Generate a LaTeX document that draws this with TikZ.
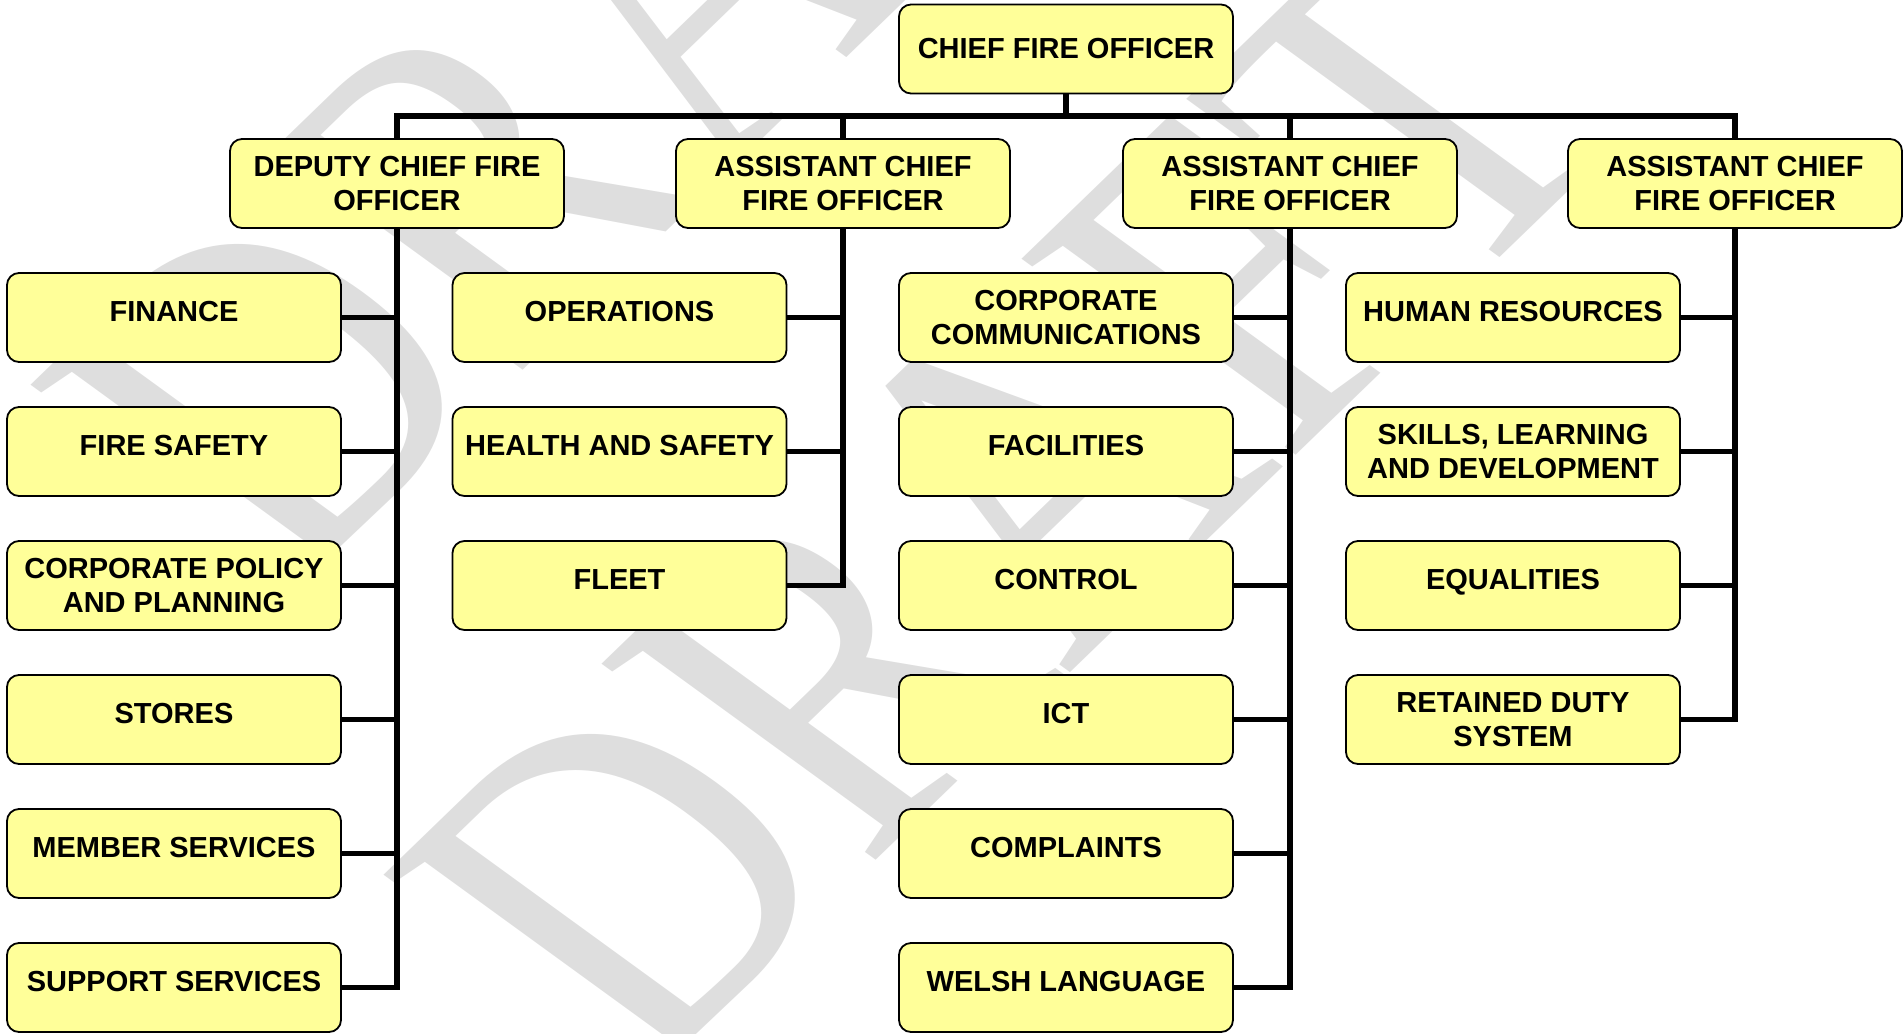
\documentclass[tikz,border=0pt]{standalone}
\usepackage{fontspec}
\setmainfont{Liberation Sans}
\newfontfamily\draftfont{Liberation Serif}
\usetikzlibrary{positioning, calc}
\definecolor{boxyellow}{RGB}{255,255,153}
\definecolor{draftgrey}{RGB}{222,222,222}
\tikzset{%
  block/.style  = {draw, rounded corners = 6pt, fill = boxyellow, line width = 0.9pt,
    minimum width = 167pt, minimum height = 44.5pt, inner sep = 0pt,
    align = center, font = \fontsize{14.5}{17}\selectfont\bfseries},
  single/.style = {text depth = 6pt}, % one-line label
  link/.style   = {line width = 2.8pt},
  draft/.style  = {text = draftgrey, inner sep = 0pt, anchor = base west,
    font = \fontsize{100}{100}\selectfont\draftfont}
}

\begin{document}
\begin{tikzpicture}[x = 0.5pt, y = -0.5pt]
\useasboundingbox (0,0) rectangle (1903,1034);
%watermark
\begin{scope}[shift = {(294,592)}]
  \node [draft, cm = {1.510,1.460,-2.079,1.511,(0,0)}] (draftA) at (0,0) {DRAFT};
\end{scope}
\begin{scope}[shift = {(647,1082)}]
  \node [draft, cm = {1.510,1.460,-2.079,1.511,(0,0)}] (draftB) at (0,0) {DRAFT};
\end{scope}
%officers
\draw
	(1066,49) node [block] (chief) {CHIEF FIRE OFFICER}
	(397,183.5) node [block] (dcfo) {DEPUTY CHIEF FIRE\\OFFICER}
	(843,183.5) node [block] (acfoA) {ASSISTANT CHIEF\\FIRE OFFICER}
	(1290,183.5) node [block] (acfoB) {ASSISTANT CHIEF\\FIRE OFFICER}
	(1735,183.5) node [block] (acfoC) {ASSISTANT CHIEF\\FIRE OFFICER};
%deputy departments
\draw
	(174,317.5) node [block, single] (fin) {FINANCE}
	(174,451.5) node [block, single] (fsafe) {FIRE SAFETY}
	(174,585.5) node [block] (policy) {CORPORATE POLICY\\AND PLANNING}
	(174,719.5) node [block, single] (stores) {STORES}
	(174,853.5) node [block, single] (member) {MEMBER SERVICES}
	(174,987.5) node [block, single] (support) {SUPPORT SERVICES};
%first assistant departments
\draw
	(619.5,317.5) node [block, single] (ops) {OPERATIONS}
	(619.5,451.5) node [block, single] (hsafe) {HEALTH AND SAFETY}
	(619.5,585.5) node [block, single] (fleet) {FLEET};
%second assistant departments
\draw
	(1066,317.5) node [block] (comms) {CORPORATE\\COMMUNICATIONS}
	(1066,451.5) node [block, single] (facil) {FACILITIES}
	(1066,585.5) node [block, single] (control) {CONTROL}
	(1066,719.5) node [block, single] (ict) {ICT}
	(1066,853.5) node [block, single] (compl) {COMPLAINTS}
	(1066,987.5) node [block, single] (welsh) {WELSH LANGUAGE};
%third assistant departments
\draw
	(1513,317.5) node [block, single] (hr) {HUMAN RESOURCES}
	(1513,451.5) node [block] (skills) {SKILLS, LEARNING\\AND DEVELOPMENT}
	(1513,585.5) node [block, single] (equal) {EQUALITIES}
	(1513,719.5) node [block] (rds) {RETAINED DUTY\\SYSTEM};
%top lines
\coordinate (hub) at ($(chief.south)!0.5!(chief.south |- dcfo.north)$);
\draw[link] (chief.south) -- (hub);
\draw[link] (dcfo.north) |- (hub);
\draw[link] (acfoA.north) |- (hub);
\draw[link] (acfoB.north) |- (hub);
\draw[link] (acfoC.north) |- (hub);
%deputy lines
\draw[link] (fin.east) -| (dcfo.south);
\draw[link] (fsafe.east) -| (dcfo.south);
\draw[link] (policy.east) -| (dcfo.south);
\draw[link] (stores.east) -| (dcfo.south);
\draw[link] (member.east) -| (dcfo.south);
\draw[link] (support.east) -| (dcfo.south);
%assistant lines
\draw[link] (ops.east) -| (acfoA.south);
\draw[link] (hsafe.east) -| (acfoA.south);
\draw[link] (fleet.east) -| (acfoA.south);
\draw[link] (comms.east) -| (acfoB.south);
\draw[link] (facil.east) -| (acfoB.south);
\draw[link] (control.east) -| (acfoB.south);
\draw[link] (ict.east) -| (acfoB.south);
\draw[link] (compl.east) -| (acfoB.south);
\draw[link] (welsh.east) -| (acfoB.south);
\draw[link] (hr.east) -| (acfoC.south);
\draw[link] (skills.east) -| (acfoC.south);
\draw[link] (equal.east) -| (acfoC.south);
\draw[link] (rds.east) -| (acfoC.south);
\end{tikzpicture}
\end{document}
